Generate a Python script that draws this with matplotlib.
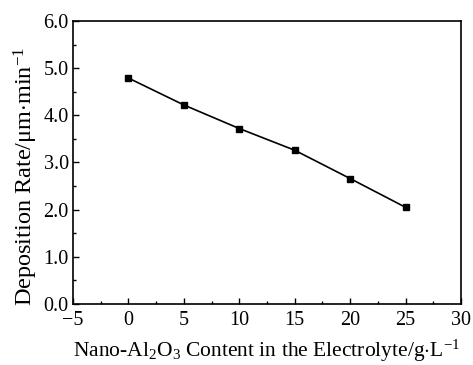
import numpy as np
import matplotlib
matplotlib.use('Agg')
import matplotlib.pyplot as plt
from matplotlib.ticker import MultipleLocator, FormatStrFormatter

# Data
content = [0, 5, 10, 15, 20, 25]
rate = [4.79, 4.22, 3.72, 3.26, 2.66, 2.05]

plt.rcParams['font.family'] = ['Liberation Serif', 'DejaVu Serif']
plt.rcParams['mathtext.fontset'] = 'custom'
plt.rcParams['mathtext.rm'] = 'Liberation Serif'
plt.rcParams['mathtext.it'] = 'Liberation Serif:italic'

fig = plt.figure(figsize=(4.73, 3.65), dpi=100)
ax = fig.add_axes([0.1543, 0.1671, 0.8203, 0.7754])

ax.plot(content, rate, color='black', linewidth=1.2, marker='s', markersize=5)

ax.set_xlim(-5, 30)
ax.set_ylim(0, 6)
ax.xaxis.set_major_locator(MultipleLocator(5))
ax.xaxis.set_minor_locator(MultipleLocator(2.5))
ax.yaxis.set_major_locator(MultipleLocator(1))
ax.yaxis.set_minor_locator(MultipleLocator(0.5))
ax.yaxis.set_major_formatter(FormatStrFormatter('%.1f'))

ax.tick_params(which='both', direction='in', labelsize=14.5, width=1)
ax.tick_params(which='major', length=4)
ax.tick_params(which='minor', length=2)
ax.tick_params(axis='y', pad=3)
ax.tick_params(axis='x', pad=5)
for s in ax.spines.values():
    s.set_linewidth(1.2)

ax.set_xlabel('Nano-Al$_2$O$_3$ Content in the Electrolyte/g$\\cdot$L$^{-1}$', fontsize=15.5, labelpad=6)
ax.set_ylabel('Deposition Rate/\u03bcm$\\cdot$min$^{-1}$', fontsize=17.5)
ax.yaxis.set_label_coords(-0.085, 0.45)

fig.savefig('out.png', dpi=100)
